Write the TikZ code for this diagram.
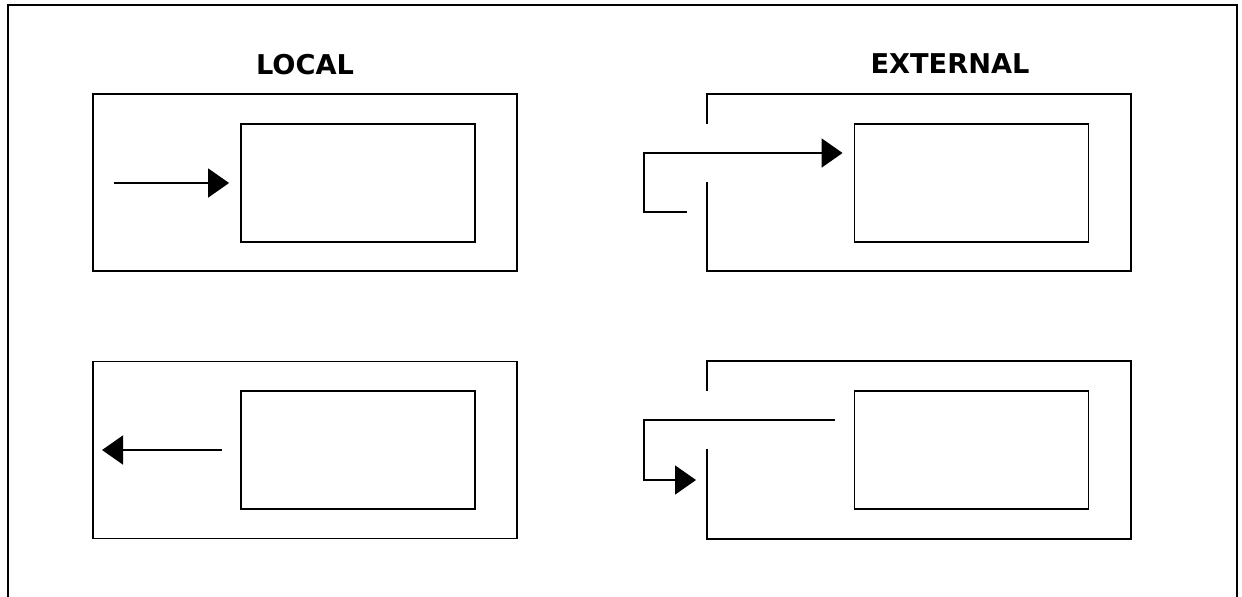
\documentclass[tikz,border=0pt]{standalone}
\usepackage{fontspec}
\setmainfont{DejaVu Sans}
\usetikzlibrary{arrows.meta}
\tikzset{
  line/.style={line width=1.1pt, line cap=butt},
  inbox/.style={line, draw, inner sep=0pt, minimum width=4.68cm, minimum height=2.36cm},
  outbox/.style={line, draw, inner sep=0pt, minimum width=8.48cm, minimum height=3.54cm},
  arr/.style={line, -{Triangle[length=0.42cm, width=0.58cm]}},
  title/.style={font=\fontsize{15.5}{18}\selectfont\bfseries}
}
\begin{document}
\begin{tikzpicture}[x=0.02cm, y=-0.02cm]
\useasboundingbox (0,0) rectangle (1242,596);
% frame, cut off at the bottom
\draw[line] (8,600) -- (8,5) -- (1237,5) -- (1237,600);
\node[title] (local) at (305,65) {LOCAL};
\node[title] (external) at (950,64) {EXTERNAL};
% local
\node[outbox] (tlout) at (305,182.5) {};
\node[inbox] (tlin) at (358,183) {};
\node[outbox] (blout) at (305,450) {};
\node[inbox] (blin) at (358,450) {};
\coordinate (tlsrc) at (114,183);
\coordinate (blsrc) at (222,450);
\draw[arr] (tlsrc) -- ([xshift=-0.22cm]tlin.west);
\draw[arr] (blsrc) -- ([xshift=0.2cm]blout.west);
% external, outer boxes open on the left
\draw[line] (707,124) -- (707,94) -- (1131,94) -- (1131,271) -- (707,271) -- (707,182);
\draw[line] (707,391) -- (707,361) -- (1131,361) -- (1131,539) -- (707,539) -- (707,449);
\node[inbox] (trin) at (971.5,183) {};
\node[inbox] (brin) at (971.5,450) {};
\coordinate (trsrc) at (687,212);
\coordinate (brsrc) at (835,420);
\coordinate (brdst) at (696,480);
\draw[arr] (trsrc) -- (644,212) -- (644,153) -- ([xshift=-0.22cm]trin.west |- 0,153);
\draw[arr] (brsrc) -- (644,420) |- (brdst);
\end{tikzpicture}
\end{document}
